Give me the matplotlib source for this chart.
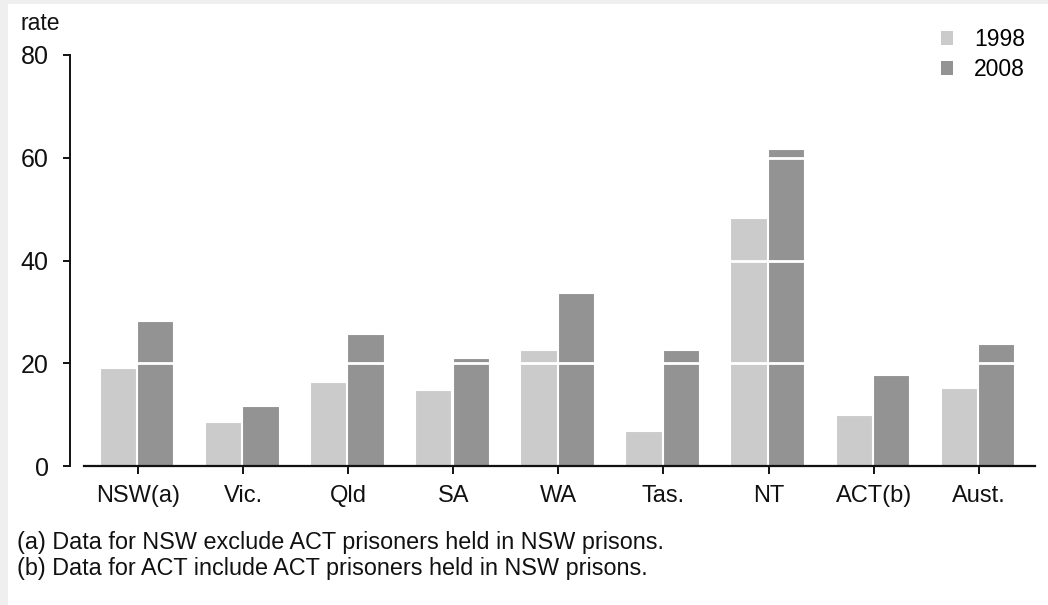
import matplotlib
matplotlib.use("Agg")
import matplotlib.pyplot as plt
from matplotlib.patches import Patch, Rectangle
import numpy as np

categories = ["NSW(a)", "Vic.", "Qld", "SA", "WA", "Tas.", "NT", "ACT(b)", "Aust."]
rate_1998 = [19.0, 8.5, 16.4, 14.7, 22.5, 6.9, 48.2, 10.0, 15.2]
rate_2008 = [28.3, 11.6, 25.7, 21.0, 33.6, 22.5, 61.8, 17.8, 23.7]
series_labels = ["1998", "2008"]
y_ticks = [0, 20, 40, 60, 80]
footnotes = ["(a) Data for NSW exclude ACT prisoners held in NSW prisons.",
             "(b) Data for ACT include ACT prisoners held in NSW prisons."]

plt.rcParams['font.family'] = ['Liberation Sans', 'DejaVu Sans']

W, H = 1048, 605
fig = plt.figure(figsize=(W / 100, H / 100), dpi=100, facecolor='#efefef')
fig.patches.append(Rectangle((8 / W, 0), 1 - 8 / W, 1 - 4 / H, transform=fig.transFigure,
                             facecolor='white', edgecolor='none', zorder=-10))

ax = fig.add_axes([84 / W, (H - 466) / H, (1035 - 84) / W, (466 - 55) / H])
ax.set_facecolor('none')

c1998 = '#cbcbcb'
c2008 = '#939393'
x = np.arange(len(categories))
bw = 0.345
ax.bar(x - 0.19, rate_1998, width=bw, color=c1998, edgecolor='white', linewidth=0.8, zorder=2)
ax.bar(x + 0.165, rate_2008, width=bw, color=c2008, edgecolor='white', linewidth=0.8, zorder=2)

for yv in y_ticks[1:-1]:
    ax.axhline(yv, color='white', linewidth=2.0, zorder=3)

ax.set_xlim(-0.514, 8.535)
ax.set_ylim(0, 80)
ax.set_yticks(y_ticks)
ax.set_xticks(x)
ax.set_xticklabels(categories)

for s in ['top', 'right']:
    ax.spines[s].set_visible(False)
ax.spines['left'].set_position(('outward', 10))
ax.spines['left'].set_linewidth(1.4)
ax.spines['bottom'].set_linewidth(1.6)
ax.spines['left'].set_color('#111111')
ax.spines['bottom'].set_color('#111111')

ax.tick_params(axis='y', direction='out', length=5, width=1.4, pad=10.5, labelsize=18, colors='#111111')
ax.tick_params(axis='x', direction='out', length=6, width=1.4, pad=8, labelsize=17, colors='#111111')

fig.text(21 / W, 1 - 23 / H, "rate", fontsize=16.5, ha='left', va='center', color='#111111')

handles = [Patch(facecolor=c1998, edgecolor='none'), Patch(facecolor=c2008, edgecolor='none')]
fig.legend(handles, series_labels, loc='upper right', bbox_to_anchor=(1025 / W, 1 - 28 / H),
           bbox_transform=fig.transFigure, frameon=False, fontsize=16.5,
           handlelength=0.55, handleheight=0.55, handletextpad=0.9, labelspacing=0.3,
           borderpad=0, borderaxespad=0)

fig.text(17 / W, 1 - 543 / H, footnotes[0], fontsize=16.8, ha='left', va='center', color='#111111')
fig.text(17 / W, 1 - 568 / H, footnotes[1], fontsize=16.8, ha='left', va='center', color='#111111')

fig.savefig("out.png", dpi=100, facecolor=fig.get_facecolor())
